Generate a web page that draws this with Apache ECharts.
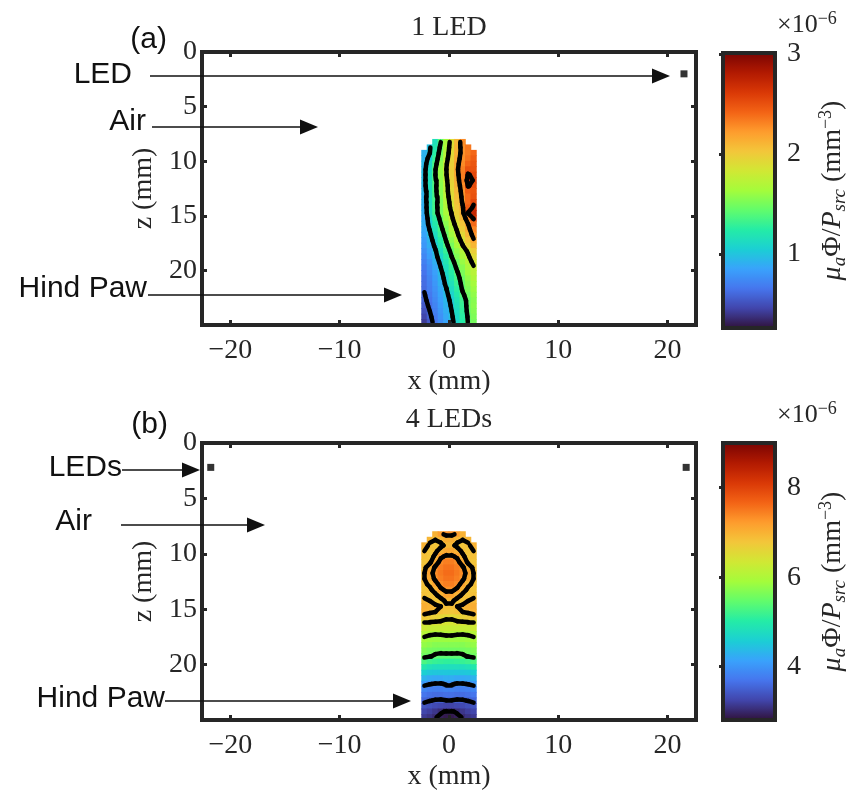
<!DOCTYPE html>
<html>
<head>
<meta charset="utf-8">
<script src="https://cdn.jsdelivr.net/npm/echarts@6/dist/echarts.min.js"></script>
<style>
  html, body { margin: 0; padding: 0; background: #fff; }
  #chart { width: 856px; height: 793px; }
</style>
</head>
<body>
<div id="chart"></div>
<script>
// cell centres of the paw grid (mm)
const X_CELLS = [-2.25, -1.75, -1.25, -0.75, -0.25, 0.25, 0.75, 1.25, 1.75, 2.25];
const Z_CELLS = [8.25, 8.75, 9.25, 9.75, 10.25, 10.75, 11.25, 11.75, 12.25, 12.75, 13.25, 13.75,
  14.25, 14.75, 15.25, 15.75, 16.25, 16.75, 17.25, 17.75, 18.25, 18.75, 19.25, 19.75,
  20.25, 20.75, 21.25, 21.75, 22.25, 22.75, 23.25, 23.75, 24.25, 24.75];
const CELL = 0.5;

// (a) 1 LED, values x1e-6 mm^-3, one row per z
const fieldA = [
  [null, null, 1.15, 1.40, 1.65, 1.89, 2.10, 2.28, null, null],
  [null, 0.98, 1.20, 1.45, 1.68, 1.91, 2.12, 2.26, 2.35, null],
  [0.92, 1.00, 1.25, 1.49, 1.71, 1.92, 2.13, 2.25, 2.33, 2.41],
  [0.93, 1.05, 1.30, 1.53, 1.74, 1.95, 2.15, 2.26, 2.36, 2.45],
  [0.95, 1.10, 1.35, 1.57, 1.78, 1.97, 2.17, 2.28, 2.42, 2.48],
  [0.96, 1.13, 1.39, 1.60, 1.80, 1.99, 2.18, 2.32, 2.50, 2.50],
  [0.97, 1.16, 1.40, 1.59, 1.79, 1.98, 2.16, 2.33, 2.62, 2.55],
  [0.96, 1.16, 1.38, 1.58, 1.77, 1.96, 2.14, 2.32, 2.70, 2.58],
  [0.95, 1.16, 1.37, 1.56, 1.75, 1.94, 2.12, 2.28, 2.62, 2.52],
  [0.94, 1.15, 1.36, 1.55, 1.75, 1.92, 2.09, 2.26, 2.45, 2.48],
  [0.93, 1.15, 1.35, 1.54, 1.73, 1.90, 2.07, 2.24, 2.40, 2.50],
  [0.92, 1.14, 1.34, 1.52, 1.70, 1.88, 2.05, 2.22, 2.40, 2.55],
  [0.91, 1.14, 1.34, 1.51, 1.69, 1.85, 2.02, 2.18, 2.45, 2.65],
  [0.90, 1.13, 1.33, 1.50, 1.66, 1.81, 1.97, 2.13, 2.62, 2.72],
  [0.88, 1.09, 1.27, 1.45, 1.61, 1.77, 1.93, 2.09, 2.30, 2.62],
  [0.90, 1.05, 1.22, 1.40, 1.56, 1.72, 1.88, 2.04, 2.20, 2.40],
  [0.88, 1.01, 1.18, 1.35, 1.51, 1.67, 1.82, 1.99, 2.15, 2.30],
  [0.86, 0.97, 1.13, 1.30, 1.46, 1.62, 1.77, 1.93, 2.09, 2.25],
  [0.82, 0.93, 1.08, 1.25, 1.41, 1.56, 1.71, 1.86, 2.02, 2.18],
  [0.80, 0.90, 1.03, 1.19, 1.36, 1.50, 1.65, 1.79, 1.94, 2.10],
  [0.76, 0.86, 0.98, 1.14, 1.30, 1.45, 1.58, 1.70, 1.83, 1.98],
  [0.73, 0.83, 0.95, 1.09, 1.25, 1.40, 1.53, 1.65, 1.77, 1.92],
  [0.70, 0.79, 0.91, 1.04, 1.19, 1.34, 1.48, 1.60, 1.72, 1.84],
  [0.67, 0.76, 0.87, 1.00, 1.14, 1.29, 1.43, 1.55, 1.67, 1.78],
  [0.65, 0.74, 0.84, 0.96, 1.10, 1.24, 1.38, 1.51, 1.62, 1.72],
  [0.63, 0.72, 0.82, 0.93, 1.06, 1.20, 1.34, 1.47, 1.58, 1.68],
  [0.62, 0.70, 0.80, 0.91, 1.03, 1.16, 1.30, 1.45, 1.55, 1.64],
  [0.61, 0.69, 0.78, 0.88, 0.99, 1.12, 1.26, 1.42, 1.52, 1.61],
  [0.59, 0.67, 0.76, 0.86, 0.96, 1.08, 1.22, 1.37, 1.48, 1.58],
  [0.57, 0.65, 0.74, 0.84, 0.94, 1.04, 1.18, 1.32, 1.45, 1.55],
  [0.54, 0.63, 0.72, 0.82, 0.92, 1.02, 1.15, 1.30, 1.45, 1.56],
  [0.50, 0.60, 0.70, 0.80, 0.90, 1.00, 1.12, 1.28, 1.44, 1.54],
  [0.46, 0.57, 0.68, 0.78, 0.88, 0.98, 1.10, 1.26, 1.42, 1.52],
  [0.42, 0.54, 0.66, 0.76, 0.86, 0.96, 1.08, 1.24, 1.41, 1.50]
];

// (b) 4 LEDs
const fieldB = [
  [null, null, 7.00, 7.20, 7.30, 7.30, 7.20, 7.00, null, null],
  [null, 6.95, 6.90, 6.95, 7.05, 7.05, 6.95, 6.90, 6.95, null],
  [7.00, 6.85, 6.80, 6.85, 6.95, 6.95, 6.85, 6.80, 6.85, 7.00],
  [6.90, 6.80, 6.85, 7.00, 7.10, 7.10, 7.00, 6.85, 6.80, 6.90],
  [6.85, 6.80, 6.95, 7.20, 7.30, 7.30, 7.20, 6.95, 6.80, 6.85],
  [6.80, 6.85, 7.10, 7.35, 7.45, 7.45, 7.35, 7.10, 6.85, 6.80],
  [6.85, 7.05, 7.30, 7.45, 7.55, 7.55, 7.45, 7.30, 7.05, 6.85],
  [6.90, 7.15, 7.35, 7.50, 7.60, 7.60, 7.50, 7.35, 7.15, 6.90],
  [6.90, 7.10, 7.30, 7.45, 7.55, 7.55, 7.45, 7.30, 7.10, 6.90],
  [6.85, 6.95, 7.15, 7.35, 7.45, 7.45, 7.35, 7.15, 6.95, 6.85],
  [6.80, 6.85, 7.00, 7.20, 7.30, 7.30, 7.20, 7.00, 6.85, 6.80],
  [6.85, 6.80, 6.85, 7.00, 7.15, 7.15, 7.00, 6.85, 6.80, 6.85],
  [6.95, 6.90, 6.80, 6.80, 6.95, 6.95, 6.80, 6.80, 6.90, 6.95],
  [7.05, 7.00, 6.95, 6.90, 6.85, 6.85, 6.90, 6.95, 7.00, 7.05],
  [7.00, 6.95, 6.90, 6.85, 6.80, 6.80, 6.85, 6.90, 6.95, 7.00],
  [6.75, 6.70, 6.65, 6.60, 6.55, 6.55, 6.60, 6.65, 6.70, 6.75],
  [6.45, 6.45, 6.45, 6.45, 6.40, 6.40, 6.45, 6.45, 6.45, 6.45],
  [6.30, 6.25, 6.25, 6.25, 6.25, 6.25, 6.25, 6.25, 6.25, 6.30],
  [6.08, 6.03, 6.01, 6.02, 6.05, 6.05, 6.02, 6.01, 6.03, 6.08],
  [5.92, 5.87, 5.85, 5.85, 5.86, 5.86, 5.85, 5.85, 5.87, 5.92],
  [5.80, 5.75, 5.70, 5.70, 5.70, 5.70, 5.70, 5.70, 5.75, 5.80],
  [5.66, 5.60, 5.58, 5.56, 5.56, 5.56, 5.56, 5.58, 5.60, 5.66],
  [5.56, 5.52, 5.45, 5.42, 5.42, 5.42, 5.42, 5.45, 5.52, 5.56],
  [5.30, 5.20, 5.15, 5.12, 5.10, 5.10, 5.12, 5.15, 5.20, 5.30],
  [4.95, 4.85, 4.80, 4.80, 4.80, 4.80, 4.80, 4.80, 4.85, 4.95],
  [4.60, 4.52, 4.50, 4.50, 4.50, 4.50, 4.50, 4.50, 4.52, 4.60],
  [4.30, 4.22, 4.20, 4.20, 4.24, 4.24, 4.20, 4.20, 4.22, 4.30],
  [4.06, 4.01, 3.98, 3.97, 4.03, 4.03, 3.97, 3.98, 4.01, 4.06],
  [3.86, 3.80, 3.78, 3.78, 3.82, 3.82, 3.78, 3.78, 3.80, 3.86],
  [3.70, 3.65, 3.62, 3.62, 3.65, 3.65, 3.62, 3.62, 3.65, 3.70],
  [3.56, 3.51, 3.48, 3.47, 3.49, 3.49, 3.47, 3.48, 3.51, 3.56],
  [3.40, 3.35, 3.30, 3.27, 3.24, 3.24, 3.27, 3.30, 3.35, 3.40],
  [3.26, 3.20, 3.12, 3.04, 2.97, 2.97, 3.04, 3.12, 3.20, 3.26],
  [3.16, 3.10, 3.02, 2.93, 2.88, 2.88, 2.93, 3.02, 3.10, 3.16]
];

const LEVELS_A = [0.6, 1.0, 1.4, 1.8, 2.2, 2.6];
const LEVELS_B = [3.0, 3.5, 4.0, 5.5, 6.0, 6.5, 6.9, 7.25];

const LED_A = [[21.5, 2.0]];
const LED_B = [[-21.8, 2.2], [21.7, 2.2]];

const X_TICKS = [-20, -10, 0, 10, 20];
const Z_TICKS = [0, 5, 10, 15, 20];
const CBAR_A = [0.26, 3.01];
const CBAR_B = [2.81, 9.0];
const CBAR_TICKS_A = [1, 2, 3];
const CBAR_TICKS_B = [4, 6, 8];

// turbo colormap
const TURBO = ['#30123b', '#4145ab', '#4675ed', '#39a2fc', '#1bcfd4', '#24eca6', '#61fc6c', '#a4fc3b',
  '#d1e834', '#f3c63a', '#fe9b2d', '#f36315', '#d93806', '#b11901', '#7a0403'];

const FRAME = '#262626';
const SERIF = '"Liberation Serif", "Times New Roman", serif';
const SANS = '"Liberation Sans", Arial, sans-serif';

const chart = echarts.init(document.getElementById('chart'));

function cells(field) {
  const out = [];
  field.forEach((row, i) => row.forEach((v, j) => {
    if (v !== null) out.push([X_CELLS[j], Z_CELLS[i], v]);
  }));
  return out;
}

// marching squares over the cell centres
function contourSegments(field, levels) {
  const segs = [];
  for (let i = 0; i < field.length - 1; i++) {
    for (let j = 0; j < X_CELLS.length - 1; j++) {
      const tl = field[i][j], tr = field[i][j + 1], bl = field[i + 1][j], br = field[i + 1][j + 1];
      if (tl === null || tr === null || bl === null || br === null) continue;
      const x0 = X_CELLS[j], x1 = X_CELLS[j + 1], z0 = Z_CELLS[i], z1 = Z_CELLS[i + 1];
      levels.forEach(L => {
        const code = (tl > L ? 8 : 0) | (tr > L ? 4 : 0) | (br > L ? 2 : 0) | (bl > L ? 1 : 0);
        if (code === 0 || code === 15) return;
        const f = (a, b) => (L - a) / (b - a);
        const top = [x0 + f(tl, tr) * (x1 - x0), z0];
        const right = [x1, z0 + f(tr, br) * (z1 - z0)];
        const bottom = [x0 + f(bl, br) * (x1 - x0), z1];
        const left = [x0, z0 + f(tl, bl) * (z1 - z0)];
        const centre = (tl + tr + bl + br) / 4;
        let pairs = [];
        switch (code) {
          case 1: case 14: pairs = [[left, bottom]]; break;
          case 2: case 13: pairs = [[bottom, right]]; break;
          case 3: case 12: pairs = [[left, right]]; break;
          case 4: case 11: pairs = [[top, right]]; break;
          case 6: case 9: pairs = [[top, bottom]]; break;
          case 7: case 8: pairs = [[left, top]]; break;
          case 5: pairs = centre > L ? [[left, top], [bottom, right]] : [[left, bottom], [top, right]]; break;
          case 10: pairs = centre > L ? [[top, right], [left, bottom]] : [[left, top], [bottom, right]]; break;
        }
        pairs.forEach(p => segs.push({ coords: p }));
      });
    }
  }
  return segs;
}

function renderCell(params, api) {
  const x = api.value(0), z = api.value(1);
  const p0 = api.coord([x - CELL / 2, z - CELL / 2]);
  const p1 = api.coord([x + CELL / 2, z + CELL / 2]);
  return {
    type: 'rect',
    shape: {
      x: Math.min(p0[0], p1[0]) - 0.4,
      y: Math.min(p0[1], p1[1]) - 0.4,
      width: Math.abs(p1[0] - p0[0]) + 0.8,
      height: Math.abs(p1[1] - p0[1]) + 0.8
    },
    style: { fill: api.visual('color') }
  };
}

const fmtNum = v => (v < 0 ? '\u2212' + (-v) : String(v));

function frameLine() {
  return { show: true, onZero: false, lineStyle: { color: FRAME, width: 4, cap: 'square' } };
}

function xAxisPair(gridIndex) {
  const tick = { show: true, inside: true, length: 5, customValues: X_TICKS, lineStyle: { color: FRAME, width: 3 } };
  return [
    {
      gridIndex, type: 'value', min: -22.6, max: 22.6, position: 'bottom', z: 10,
      axisLine: frameLine(), axisTick: tick, splitLine: { show: false },
      axisLabel: { customValues: X_TICKS, formatter: fmtNum, fontFamily: SERIF, fontSize: 28, color: FRAME, margin: 12 },
      name: 'x (mm)', nameLocation: 'middle', nameGap: 43,
      nameTextStyle: { fontFamily: SERIF, fontSize: 28, color: FRAME }
    },
    {
      gridIndex, type: 'value', min: -22.6, max: 22.6, position: 'top', z: 10,
      axisLine: frameLine(), axisTick: tick, splitLine: { show: false }, axisLabel: { show: false }
    }
  ];
}

function zAxisPair(gridIndex) {
  const tick = { show: true, inside: true, length: 5, customValues: Z_TICKS, lineStyle: { color: FRAME, width: 3 } };
  return [
    {
      gridIndex, type: 'value', min: 0, max: 25, inverse: true, position: 'left', z: 10,
      axisLine: frameLine(), axisTick: tick, splitLine: { show: false },
      axisLabel: { customValues: Z_TICKS, formatter: fmtNum, fontFamily: SERIF, fontSize: 28, color: FRAME, margin: 5 },
      name: 'z (mm)', nameLocation: 'middle', nameGap: 38, nameRotate: 90,
      nameTextStyle: { fontFamily: SERIF, fontSize: 28, color: FRAME }
    },
    {
      gridIndex, type: 'value', min: 0, max: 25, inverse: true, position: 'right', z: 10,
      axisLine: frameLine(), axisTick: tick, splitLine: { show: false }, axisLabel: { show: false }
    }
  ];
}

const cbarName = '{i|\u03bc}{s|a}{n|\u03a6/}{i|P}{s|src}{n| (mm}{p|\u22123}{n|)}';
const cbarRich = {
  i: { fontFamily: SERIF, fontStyle: 'italic', fontSize: 28, lineHeight: 32, color: FRAME },
  n: { fontFamily: SERIF, fontSize: 28, lineHeight: 32, color: FRAME },
  s: { fontFamily: SERIF, fontStyle: 'italic', fontSize: 19, lineHeight: 19, verticalAlign: 'bottom', color: FRAME },
  p: { fontFamily: SERIF, fontSize: 18, lineHeight: 18, verticalAlign: 'top', color: FRAME }
};

function cbarAxis(gridIndex, range, ticks) {
  return {
    gridIndex, type: 'value', min: range[0], max: range[1], position: 'right', z: 12,
    axisLine: { show: false },
    axisTick: { show: true, inside: true, length: 4, customValues: ticks, lineStyle: { color: FRAME, width: 3 } },
    axisLabel: { customValues: ticks, fontFamily: SERIF, fontSize: 28, color: FRAME, margin: 12 },
    splitLine: { show: false },
    name: cbarName, nameLocation: 'middle', nameGap: 42, nameRotate: 90,
    nameTextStyle: { rich: cbarRich }
  };
}

function arrow(x1, x2, y) {
  return [
    { type: 'line', shape: { x1: x1, y1: y, x2: x2 - 14, y2: y }, style: { stroke: '#111', lineWidth: 1.6 }, z: 20 },
    { type: 'polygon', shape: { points: [[x2, y], [x2 - 18, y - 7.5], [x2 - 18, y + 7.5]] }, style: { fill: '#111' }, z: 20 }
  ];
}

function label(text, x, y, font, align) {
  return {
    type: 'text', x: x, y: y, z: 20,
    style: { text: text, fontFamily: font, fontSize: font === SANS ? 30 : 28, fill: font === SANS ? '#111' : FRAME,
      align: align || 'right', verticalAlign: 'middle' }
  };
}

function powerLabel(x, y) {
  return {
    type: 'text', x: x, y: y, z: 20,
    style: {
      text: '{a|\u00d710}{b|\u22126}', align: 'left', verticalAlign: 'middle',
      rich: {
        a: { fontFamily: SERIF, fontSize: 26, lineHeight: 30, fill: FRAME },
        b: { fontFamily: SERIF, fontSize: 18, lineHeight: 18, verticalAlign: 'top', fill: FRAME }
      }
    }
  };
}

const option = {
  backgroundColor: '#fff',
  animation: false,
  grid: [
    { left: 202, top: 52, width: 494, height: 273 },
    { left: 202, top: 443, width: 494, height: 277 },
    { left: 723, top: 53, width: 52, height: 275, show: true, z: 10, borderColor: FRAME, borderWidth: 4, backgroundColor: 'transparent' },
    { left: 723, top: 443, width: 52, height: 277, show: true, z: 10, borderColor: FRAME, borderWidth: 4, backgroundColor: 'transparent' }
  ],
  xAxis: [
    ...xAxisPair(0),
    ...xAxisPair(1),
    { gridIndex: 2, type: 'value', min: 0, max: 1, show: false },
    { gridIndex: 3, type: 'value', min: 0, max: 1, show: false }
  ],
  yAxis: [
    ...zAxisPair(0),
    ...zAxisPair(1),
    cbarAxis(2, CBAR_A, CBAR_TICKS_A),
    cbarAxis(3, CBAR_B, CBAR_TICKS_B)
  ],
  visualMap: [
    {
      type: 'continuous', seriesIndex: 0, dimension: 2, min: CBAR_A[0], max: CBAR_A[1],
      left: 723, top: 53, itemWidth: 52, itemHeight: 275, padding: 0, calculable: false,
      hoverLink: false, inRange: { color: TURBO }, z: 4
    },
    {
      type: 'continuous', seriesIndex: 3, dimension: 2, min: CBAR_B[0], max: CBAR_B[1],
      left: 723, top: 443, itemWidth: 52, itemHeight: 277, padding: 0, calculable: false,
      hoverLink: false, inRange: { color: TURBO }, z: 4
    }
  ],
  series: [
    { type: 'custom', xAxisIndex: 0, yAxisIndex: 0, renderItem: renderCell, encode: { x: 0, y: 1 }, data: cells(fieldA), silent: true, z: 2 },
    { type: 'lines', coordinateSystem: 'cartesian2d', xAxisIndex: 0, yAxisIndex: 0, data: contourSegments(fieldA, LEVELS_A),
      lineStyle: { color: '#000', width: 4.5, opacity: 1, cap: 'round' }, silent: true, z: 3 },
    { type: 'scatter', xAxisIndex: 0, yAxisIndex: 0, data: LED_A, symbol: 'rect', symbolSize: 7, itemStyle: { color: '#000' }, silent: true, z: 4 },
    { type: 'custom', xAxisIndex: 2, yAxisIndex: 2, renderItem: renderCell, encode: { x: 0, y: 1 }, data: cells(fieldB), silent: true, z: 2 },
    { type: 'lines', coordinateSystem: 'cartesian2d', xAxisIndex: 2, yAxisIndex: 2, data: contourSegments(fieldB, LEVELS_B),
      lineStyle: { color: '#000', width: 4.5, opacity: 1, cap: 'round' }, silent: true, z: 3 },
    { type: 'scatter', xAxisIndex: 2, yAxisIndex: 2, data: LED_B, symbol: 'rect', symbolSize: 7, itemStyle: { color: '#000' }, silent: true, z: 4 }
  ],
  graphic: [
    label('1 LED', 449, 28, SERIF, 'center'),
    label('4 LEDs', 449, 420, SERIF, 'center'),
    label('(a)', 167, 40, SANS),
    label('(b)', 168, 425, SANS),
    label('LED', 132, 75, SANS),
    label('Air', 146, 122, SANS),
    label('Hind Paw', 147, 289, SANS),
    label('LEDs', 122, 468, SANS),
    label('Air', 92, 522, SANS),
    label('Hind Paw', 165, 699, SANS),
    ...arrow(150, 670, 76),
    ...arrow(152, 318, 127),
    ...arrow(148, 402, 295),
    ...arrow(122, 200, 470),
    ...arrow(121, 265, 525),
    ...arrow(165, 411, 701),
    powerLabel(777, 25),
    powerLabel(777, 415)
  ]
};

chart.setOption(option);
</script>
</body>
</html>
